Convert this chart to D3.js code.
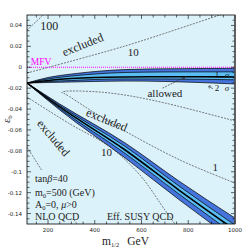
<!DOCTYPE html>
<html><head><meta charset="utf-8">
<script src="https://cdn.jsdelivr.net/npm/d3@7/dist/d3.min.js"></script>
<style>body{margin:0;background:#fff}</style>
</head><body>
<script>
var width = 251, height = 251;
var L = 27, R = 235, T = 15, B = 224;

// tick labels
var xTicks = [200, 400, 600, 800, 1000];
var yTicks = [0.04, 0.02, 0, -0.02, -0.04, -0.06, -0.08, -0.1, -0.12, -0.14];
var yTickLabels = ["0.04", "0.02", "0", "-0.02", "-0.04", "-0.06", "-0.08", "-0.1", "-0.12", "-0.14"];

// upper branch of the allowed band (m1/2, Delta)
var mUp   = [110, 200, 300, 400, 530, 700, 850, 1000];
var up2Hi = [-0.0151, -0.0098, -0.0065, -0.0041, -0.0022, -0.0015, -0.0012, -0.0010];
var up1Hi = [-0.0151, -0.0112, -0.0084, -0.0065, -0.0050, -0.0045, -0.0044, -0.0044];
var upCen = [-0.0151, -0.0127, -0.0108, -0.0098, -0.0093, -0.0091, -0.0091, -0.0093];
var up1Lo = [-0.0151, -0.0136, -0.0127, -0.0117, -0.0112, -0.0112, -0.0115, -0.0120];
var up2Lo = [-0.0151, -0.0146, -0.0141, -0.0136, -0.0132, -0.0136, -0.0146, -0.0160];

// lower branch of the allowed band
var mLow   = [110, 250, 530, 760, 1000];
var low2Hi = [-0.0151, -0.0352, -0.0725, -0.1089, -0.1443];
var low1Hi = [-0.0151, -0.0366, -0.0758, -0.1136, -0.1510];
var lowCen = [-0.0151, -0.0380, -0.0792, -0.1175, -0.1557];
var low1Lo = [-0.0151, -0.0395, -0.0825, -0.1213, -0.1605];
var low2Lo = [-0.0151, -0.0409, -0.0868, -0.1266, -0.1662];

// contours
var c100Up = [[110, 0.0356], [178, 0.050], [200, 0.056]];
var c10Up  = [[110, -0.0055], [529, 0.0203], [936, 0.050], [980, 0.053]];
var c1Wedge = [[1000, -0.0514], [700, -0.0342], [529, -0.0266], [401, -0.0234], [275, -0.0230], [258, -0.0240], [272, -0.0254], [380, -0.0409], [529, -0.0610], [765, -0.0888], [1000, -0.1108]];
var c10Low = [[110, -0.0285], [294, -0.0543], [465, -0.0763], [593, -0.1031], [700, -0.1366], [743, -0.1500]];
var c100Low = [[110, -0.0763], [208, -0.1108], [324, -0.150]];

var svg = d3.select("body").append("svg").attr("width", width).attr("height", height);
var x = d3.scaleLinear().domain([110, 1000]).range([L, R]);
var y = d3.scaleLinear().domain([0.05, -0.15]).range([T, B]);

svg.append("defs").append("clipPath").attr("id", "clip")
  .append("rect").attr("x", L).attr("y", T).attr("width", R - L).attr("height", B - T);
svg.append("rect").attr("x", L).attr("y", T).attr("width", R - L).attr("height", B - T).attr("fill", "#dcf2fa");

var g = svg.append("g").attr("clip-path", "url(#clip)");

function band(ms, lo, hi, fill) {
  var d = ms.map((m, i) => ({m: m, lo: lo[i], hi: hi[i]}));
  g.append("path").datum(d).attr("fill", fill)
    .attr("d", d3.area().x(p => x(p.m)).y0(p => y(p.lo)).y1(p => y(p.hi)).curve(d3.curveMonotoneX));
}
function curve(ms, vs, w) {
  g.append("path").datum(ms.map((m, i) => [m, vs[i]])).attr("fill", "none").attr("stroke", "#000").attr("stroke-width", w)
    .attr("d", d3.line().x(p => x(p[0])).y(p => y(p[1])).curve(d3.curveMonotoneX));
}
band(mUp, up2Lo, up2Hi, "#4574dc");
band(mUp, up1Lo, up1Hi, "#5abdf3");
band(mLow, low2Lo, low2Hi, "#4574dc");
band(mLow, low1Lo, low1Hi, "#5abdf3");
[up2Hi, up2Lo, up1Hi, up1Lo].forEach(a => curve(mUp, a, 0.7));
curve(mUp, upCen, 1.6);
[low2Hi, low2Lo, low1Hi, low1Lo].forEach(a => curve(mLow, a, 0.7));
curve(mLow, lowCen, 1.6);

// contour lines
[c100Up, c10Up, c1Wedge, c10Low, c100Low].forEach(function (c) {
  g.append("path").datum(c).attr("fill", "none").attr("stroke", "#444").attr("stroke-width", 0.7)
    .attr("stroke-dasharray", "2,1.2")
    .attr("d", d3.line().x(p => x(p[0])).y(p => y(p[1])).curve(d3.curveCatmullRom));
});

// MFV line
g.append("line").attr("x1", L).attr("x2", R).attr("y1", y(0)).attr("y2", y(0))
  .attr("stroke", "#ff00ff").attr("stroke-width", 1).attr("stroke-dasharray", "1,1");

// legend background (hides the lower contour)
g.append("rect").attr("x", 33).attr("y", 170).attr("width", 62).attr("height", 50).attr("fill", "#dcf2fa");

// texts
var serif = "Liberation Serif";
function label(t, mx, dy, size, rot, color) {
  var px = x(mx), py = y(dy);
  return svg.append("text").attr("x", px).attr("y", py).attr("font-family", serif).attr("font-size", size)
    .attr("fill", color || "#222").attr("text-anchor", "middle")
    .attr("transform", rot ? "rotate(" + rot + "," + px + "," + py + ")" : null).text(t);
}
label("100", 205, 0.0355, 12);
label("excluded", 355, 0.0180, 12, -22);
label("10", 565, 0.0105, 11);
label("MFV", 170, 0.0022, 9.5, 0, "#ff00ff");
label("allowed", 700, -0.0280, 11);
label("excluded", 445, -0.0540, 12, 22);
label("10", 450, -0.0850, 11);
label("1", 915, -0.0993, 11);
label("excluded", 210, -0.0700, 12, 50);
// sigma labels
label("1", 923, -0.0103, 9);
label("σ", 966, -0.0103, 9).attr("font-style", "italic");
label("2", 923, -0.0230, 9);
label("σ", 966, -0.0230, 9).attr("font-style", "italic");

// allowed arrow
var ar = svg.append("g").attr("stroke", "#333").attr("stroke-width", 0.7).attr("fill", "none");
ar.append("line").attr("x1", x(690)).attr("y1", y(-0.0200)).attr("x2", x(790)).attr("y2", y(-0.0088))
  .attr("stroke-dasharray", "2,1");
ar.append("path").attr("fill", "#333").attr("stroke", "none")
  .attr("d", "M" + x(790) + "," + y(-0.0088) + "l-3.5,1l1.5,2.3z");
ar.append("path").attr("d", "M" + x(905) + "," + y(-0.0205) + "l-4,-2.5m0,0l0.5,2.3m-0.5,-2.3l2.3,-0.3");

// legend text
var lg = svg.append("g").attr("font-family", serif).attr("font-size", 10).attr("fill", "#222");
var t1 = lg.append("text").attr("x", 35).attr("y", 182);
t1.append("tspan").text("tan");
t1.append("tspan").attr("font-style", "italic").text("β");
t1.append("tspan").text("=40");
var t2 = lg.append("text").attr("x", 35).attr("y", 196);
t2.append("tspan").text("m");
t2.append("tspan").attr("font-size", 6.5).attr("dy", 2).text("0");
t2.append("tspan").attr("dy", -2).text("=500 (GeV)");
var t3 = lg.append("text").attr("x", 35).attr("y", 208);
t3.append("tspan").text("A");
t3.append("tspan").attr("font-size", 6.5).attr("dy", 2).text("0");
t3.append("tspan").attr("dy", -2).text("=0, ");
t3.append("tspan").attr("font-style", "italic").text("μ");
t3.append("tspan").text(">0");
lg.append("text").attr("x", 35).attr("y", 220).text("NLO QCD");
lg.append("text").attr("x", 107).attr("y", 220).text("Eff. SUSY QCD");

// frame + ticks
var ax = svg.append("g").attr("stroke", "#000").attr("stroke-width", 0.6);
d3.range(150, 1001, 50).forEach(function (m) {
  var len = m % 200 === 0 ? 4 : 2.5;
  ax.append("line").attr("x1", x(m)).attr("x2", x(m)).attr("y1", B).attr("y2", B - len);
  ax.append("line").attr("x1", x(m)).attr("x2", x(m)).attr("y1", T).attr("y2", T + len);
});
d3.range(-0.145, 0.05, 0.005).forEach(function (v) {
  var major = Math.abs(Math.round(v * 1000) % 20) === 0;
  var len = major ? 4 : 2.5;
  ax.append("line").attr("x1", L).attr("x2", L + len).attr("y1", y(v)).attr("y2", y(v));
  ax.append("line").attr("x1", R).attr("x2", R - len).attr("y1", y(v)).attr("y2", y(v));
});
svg.append("rect").attr("x", L).attr("y", T).attr("width", R - L).attr("height", B - T)
  .attr("fill", "none").attr("stroke", "#000").attr("stroke-width", 0.8);
svg.append("line").attr("x1", R).attr("x2", R).attr("y1", T).attr("y2", B).attr("stroke", "#555").attr("stroke-width", 1.6);

var tk = svg.append("g").attr("font-family", "DejaVu Sans").attr("font-size", 5.5).attr("fill", "#222");
xTicks.forEach(function (m) {
  tk.append("text").attr("x", x(m)).attr("y", B + 8).attr("text-anchor", "middle").text(m);
});
yTicks.forEach(function (v, i) {
  tk.append("text").attr("x", L - 5).attr("y", y(v) + 2).attr("text-anchor", "end").text(yTickLabels[i]);
});

// axis titles
var xt = svg.append("text").attr("x", 102).attr("y", 245).attr("font-family", serif).attr("font-size", 11.5).attr("fill", "#222");
xt.append("tspan").text("m");
xt.append("tspan").attr("font-size", 6.5).attr("dy", 2).text("1/2");
xt.append("tspan").attr("dy", -2).attr("dx", 8).text("GeV");
var yt = svg.append("text").attr("transform", "translate(10,123) rotate(-90)").attr("font-family", serif).attr("font-size", 11).attr("fill", "#222");
yt.append("tspan").attr("font-style", "italic").text("ε");
yt.append("tspan").attr("font-size", 7).attr("dy", 2).text("b");
</script>
</body></html>
